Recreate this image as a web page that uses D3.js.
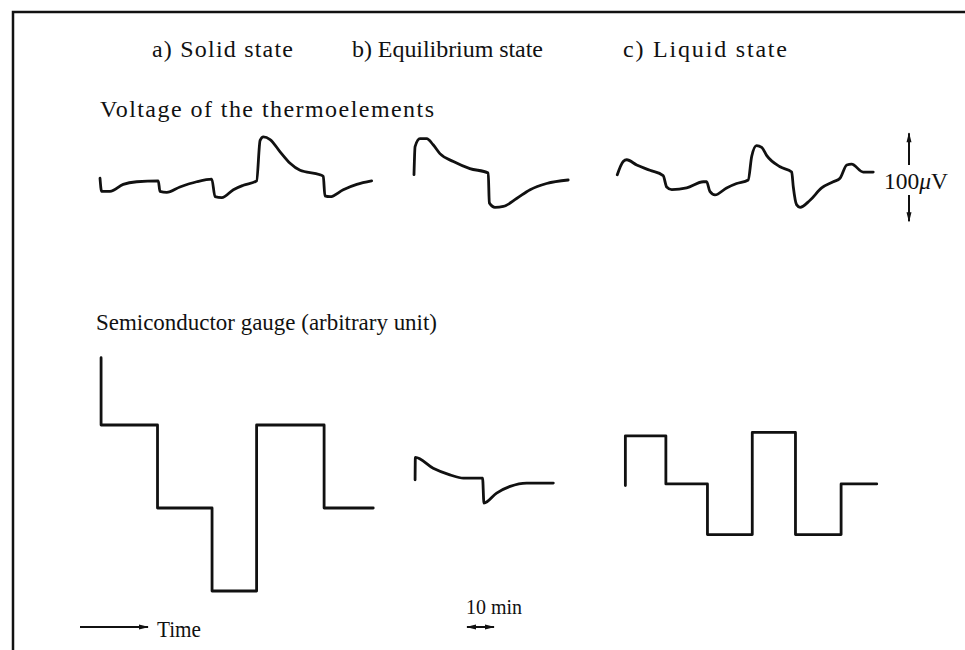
<!DOCTYPE html>
<html>
<head>
<meta charset="utf-8">
<script src="https://cdn.jsdelivr.net/npm/d3@7"></script>
<style>
  body { margin: 0; background: #fff; }
  svg text { font-family: "Liberation Serif", "DejaVu Serif", serif; fill: #111; }
</style>
</head>
<body>
<div id="chart"></div>
<script>
// state labels over the three columns
const stateLabels = ["a) Solid state", "b) Equilibrium state", "c) Liquid state"];

// voltage of the thermoelements: time in min, voltage in µV
const voltTimeA = [0, 0.6, 3.7, 8.6, 13.6, 21.6, 22.2, 24.7, 29.6, 35.8, 41.4, 42.6, 45.1, 49.4, 53.1, 58.0, 59.3, 60.5, 63.0, 66.7, 70.4, 74.1, 81.5, 82.7, 83.3, 85.2, 90.1, 95.1, 100.6];
const voltA = [2, -13, -13, -5, -2, -1, -13, -14, -8, -2, 1, -19, -20, -11, -6, -1, 45, 49, 46, 32, 19, 11, 6, 4, -18, -19, -11, -5, -1];

const voltTimeB = [0, 0.4, 2.2, 4.7, 7.1, 9.6, 14.6, 20.7, 27.5, 27.9, 30.0, 33.1, 38.0, 43.0, 49.1, 57.1];
const voltB = [6, 38, 47, 47, 40, 30, 21, 13, 8, -26, -31, -30, -21, -11, -4, 0];

const voltTimeC = [0.1, 2.3, 3.6, 7.3, 12.2, 17.1, 18.4, 20.3, 25.8, 32.0, 33.2, 34.4, 36.3, 40.6, 44.3, 48.6, 49.9, 51.7, 53.6, 55.4, 60.4, 64.7, 65.3, 66.5, 67.8, 71.5, 75.8, 80.1, 82.6, 85.1, 86.9, 91.2, 94.9];
const voltC = [6, 21, 23, 17, 11, 5, -8, -11, -9, -2, -2, -13, -17, -9, -4, 0, 27, 39, 37, 28, 15, 9, -8, -28, -31, -23, -9, -2, 2, 17, 18, 9, 9];

// semiconductor gauge (arbitrary unit)
const gaugeTimeA = [0.4, 0.4, 21.3, 41.5, 58.0, 83.0, 101.2];
const gaugeA = [1.81, 1.0, 0, -1, 1.0, 0, 0];

const gaugeTimeB = [0.4, 0.5, 7.1, 13.3, 18.3, 25.4, 25.9, 30.6, 35.6, 41.7, 51.6];
const gaugeB = [0.34, 0.61, 0.48, 0.40, 0.36, 0.36, 0.06, 0.18, 0.26, 0.30, 0.30];

const gaugeTimeC = [3.1, 3.1, 18.1, 33.5, 50.1, 66.1, 83.0, 96.2];
const gaugeC = [0.27, 0.87, 0.29, -0.32, 0.91, -0.32, 0.29, 0.29];

// scale marks
const voltBar = [-47, 53];     // 100 µV
const timeBar = [0, 10];       // 10 min

const width = 965, height = 650;
const pxPerMin = 2.7;
const panelStart = [100, 414, 617];

const svg = d3.select("#chart").append("svg")
    .attr("width", width)
    .attr("height", height);

const defs = svg.append("defs");
function addArrow(id, orient) {
    defs.append("marker")
        .attr("id", id)
        .attr("viewBox", "0 0 10 6")
        .attr("refX", 9)
        .attr("refY", 3)
        .attr("markerWidth", 11)
        .attr("markerHeight", 6)
        .attr("markerUnits", "userSpaceOnUse")
        .attr("orient", orient)
        .append("path")
        .attr("d", "M0,0.5 L10,3 L0,5.5 Z")
        .attr("fill", "#111");
}
addArrow("arr", "auto");
addArrow("arrStart", "auto-start-reverse");

// frame (only top and left edges show on the scan)
svg.append("path")
    .attr("d", `M13,${height} L13,12 L${width},12`)
    .attr("fill", "none")
    .attr("stroke", "#111")
    .attr("stroke-width", 2.5);

// column titles
const titleX = [152, 352, 623];
const titleW = [141, 191, 164];
svg.selectAll(".state")
    .data(stateLabels)
    .enter()
    .append("text")
    .attr("class", "state")
    .attr("x", (d, i) => titleX[i])
    .attr("y", 57)
    .attr("font-size", 24)
    .attr("textLength", (d, i) => titleW[i])
    .attr("lengthAdjust", "spacing")
    .text(d => d);

svg.append("text")
    .attr("x", 100).attr("y", 117)
    .attr("font-size", 24)
    .attr("textLength", 334)
    .attr("lengthAdjust", "spacing")
    .text("Voltage of the thermoelements");

svg.append("text")
    .attr("x", 96).attr("y", 330)
    .attr("font-size", 23)
    .attr("textLength", 341)
    .attr("lengthAdjust", "spacingAndGlyphs")
    .text("Semiconductor gauge (arbitrary unit)");

// scales
const xScales = panelStart.map(s => d3.scaleLinear().domain([0, 10]).range([s, s + 10 * pxPerMin]));
const yVolt = d3.scaleLinear().domain([-50, 50]).range([224, 136]);
const yGauge = d3.scaleLinear().domain([-1, 1]).range([591, 425]);

const voltSeries = [[voltTimeA, voltA], [voltTimeB, voltB], [voltTimeC, voltC]];
const gaugeSeries = [[gaugeTimeA, gaugeA, d3.curveStepAfter], [gaugeTimeB, gaugeB, d3.curveMonotoneX], [gaugeTimeC, gaugeC, d3.curveStepAfter]];

voltSeries.forEach(([t, v], i) => {
    const line = d3.line()
        .x(d => xScales[i](d[0]))
        .y(d => yVolt(d[1]))
        .curve(d3.curveMonotoneX);
    svg.append("path")
        .datum(d3.zip(t, v))
        .attr("d", line)
        .attr("fill", "none")
        .attr("stroke", "#111")
        .attr("stroke-width", 2.8)
        .attr("stroke-linejoin", "round")
        .attr("stroke-linecap", "round");
});

gaugeSeries.forEach(([t, v, curve], i) => {
    const line = d3.line()
        .x(d => xScales[i](d[0]))
        .y(d => yGauge(d[1]))
        .curve(curve);
    svg.append("path")
        .datum(d3.zip(t, v))
        .attr("d", line)
        .attr("fill", "none")
        .attr("stroke", "#111")
        .attr("stroke-width", 2.8)
        .attr("stroke-linejoin", "round")
        .attr("stroke-linecap", "round");
});

// 100 µV scale mark
const barX = 909;
svg.append("line")
    .attr("x1", barX).attr("x2", barX)
    .attr("y1", 165).attr("y2", yVolt(voltBar[1]))
    .attr("stroke", "#111").attr("stroke-width", 2)
    .attr("marker-end", "url(#arr)");
svg.append("line")
    .attr("x1", barX).attr("x2", barX)
    .attr("y1", 195).attr("y2", yVolt(voltBar[0]))
    .attr("stroke", "#111").attr("stroke-width", 2)
    .attr("marker-end", "url(#arr)");
const uv = svg.append("text")
    .attr("x", 884).attr("y", 189)
    .attr("font-size", 23)
    .attr("textLength", 64)
    .attr("lengthAdjust", "spacingAndGlyphs");
uv.append("tspan").text("100");
uv.append("tspan").attr("font-style", "italic").text("\u03bc");
uv.append("tspan").text("V");

// 10 min scale mark
const barScale = d3.scaleLinear().domain([0, 10]).range([467, 467 + 10 * pxPerMin]);
svg.append("line")
    .attr("x1", barScale(timeBar[0])).attr("x2", barScale(timeBar[1]))
    .attr("y1", 627).attr("y2", 627)
    .attr("stroke", "#111").attr("stroke-width", 2)
    .attr("marker-start", "url(#arrStart)")
    .attr("marker-end", "url(#arr)");
svg.append("text")
    .attr("x", 466).attr("y", 614)
    .attr("font-size", 22)
    .attr("textLength", 56)
    .attr("lengthAdjust", "spacingAndGlyphs")
    .text("10 min");

// time arrow
svg.append("line")
    .attr("x1", 80).attr("x2", 148)
    .attr("y1", 627).attr("y2", 627)
    .attr("stroke", "#111").attr("stroke-width", 2)
    .attr("marker-end", "url(#arr)");
svg.append("text")
    .attr("x", 157).attr("y", 637)
    .attr("font-size", 24)
    .attr("textLength", 44)
    .attr("lengthAdjust", "spacingAndGlyphs")
    .text("Time");
</script>
</body>
</html>
